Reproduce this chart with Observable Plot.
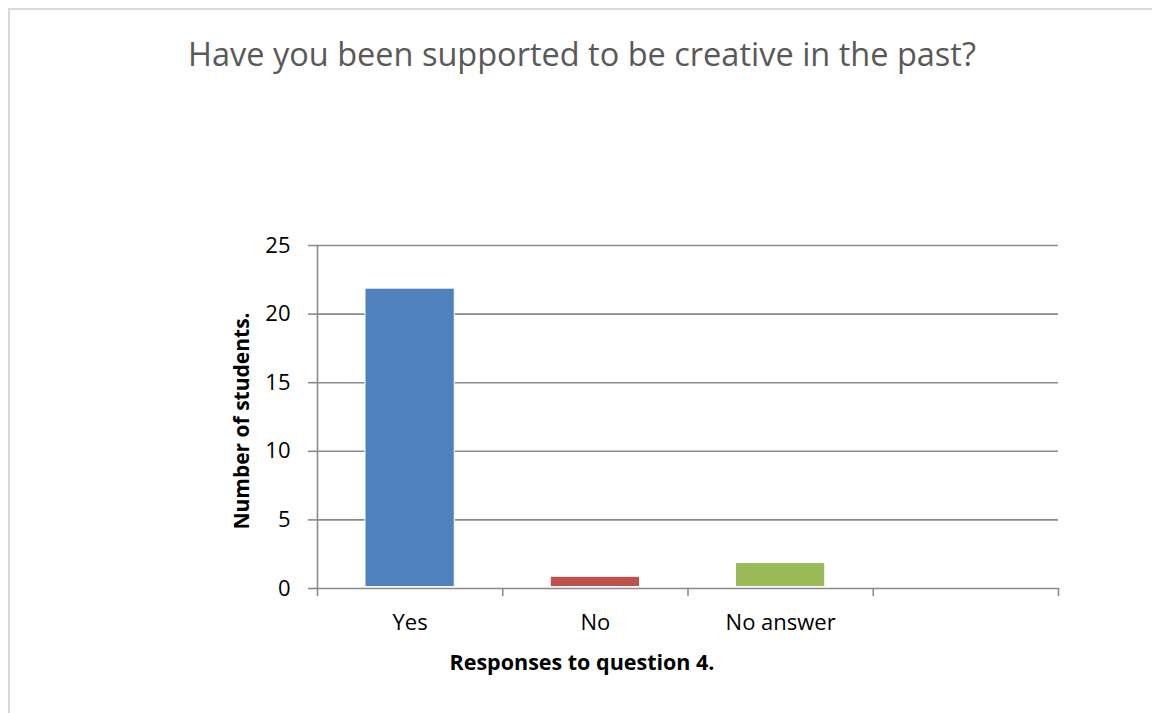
<!DOCTYPE html>
<html>
<head>
<meta charset="utf-8">
<script src="https://cdn.jsdelivr.net/npm/d3@7"></script>
<script src="https://cdn.jsdelivr.net/npm/@observablehq/plot@0.6"></script>
<style>
  html, body { margin: 0; padding: 0; background: #fff; overflow: hidden; }
  #wrap { position: relative; width: 1152px; height: 713px; overflow: hidden; font-family: "Open Sans", sans-serif; }
  #frame { position: absolute; left: 8px; top: 8px; width: 1170px; height: 730px; border: 2px solid #d9d9d9; box-sizing: border-box; }
  #title { position: absolute; left: 0; width: 1164px; top: 31px; text-align: center; font-size: 32.5px; color: #595959; font-weight: 400; white-space: nowrap; }
  #ylabel { position: absolute; left: 241px; top: 421px; transform: translate(-50%, -50%) rotate(-90deg); font-size: 21px; font-weight: 700; color: #000; white-space: nowrap; }
  #xlabel { position: absolute; left: 582px; top: 661px; transform: translate(-50%, -50%); font-size: 21.5px; font-weight: 700; color: #000; white-space: nowrap; }
  #chart { position: absolute; left: 0; top: 0; }
</style>
</head>
<body>
<div id="wrap">
  <div id="frame"></div>
  <div id="chart"></div>
  <div id="title">Have you been supported to be creative in the past?</div>
  <div id="ylabel">Number of students.</div>
  <div id="xlabel">Responses to question 4.</div>
</div>
<script>
const categories = ["Yes", "No", "No answer"];
const counts = [22, 1, 2];
const barColors = ["#4F81BD", "#C0504D", "#9BBB59"];
const slotCount = 4; // the category axis has one extra empty slot
const yTicks = [0, 5, 10, 15, 20, 25];

const data = categories.map((c, i) => ({ category: c, count: counts[i], color: barColors[i], i0: i, i1: i + 1, mid: i + 0.5 }));
const slots = d3.range(slotCount + 1);
const gray = "#8a8a8a";

const plot = Plot.plot({
  width: 1152,
  height: 713,
  marginLeft: 317,
  marginRight: 94,
  marginTop: 245,
  marginBottom: 125,
  style: { fontFamily: "Open Sans, sans-serif", background: "transparent" },
  x: { type: "linear", domain: [0, slotCount], axis: null },
  y: { type: "linear", domain: [0, 25], axis: null },
  marks: [
    Plot.gridY(yTicks.filter(t => t > 0), { stroke: gray, strokeOpacity: 1, strokeWidth: 1.6 }),
    Plot.rectY(data, { x1: "i0", x2: "i1", y: "count", fill: "color", stroke: "#fff", strokeWidth: 1, insetLeft: 48, insetRight: 48, insetBottom: 1.5, insetTop: 2 }),
    Plot.ruleY([0], { stroke: gray, strokeWidth: 1.6 }),
    Plot.ruleX([0], { stroke: gray, strokeWidth: 1.6, y1: 25, y2: 0 }),
    Plot.axisX(slots, { ticks: slots, tickSize: 8, tickFormat: () => "", stroke: gray, strokeWidth: 1.6, strokeOpacity: 1, anchor: "bottom", label: null }),
    Plot.axisY(yTicks, { ticks: yTicks, tickSize: 9, tickPadding: 18, fontSize: 22, fill: "#000", stroke: gray, strokeWidth: 1.6, strokeOpacity: 1, anchor: "left", label: null }),
    Plot.text(data, { x: "mid", text: "category", frameAnchor: "bottom", dy: 41, fontSize: 22, fill: "#000" })
  ]
});
document.getElementById("chart").appendChild(plot);
</script>
</body>
</html>
